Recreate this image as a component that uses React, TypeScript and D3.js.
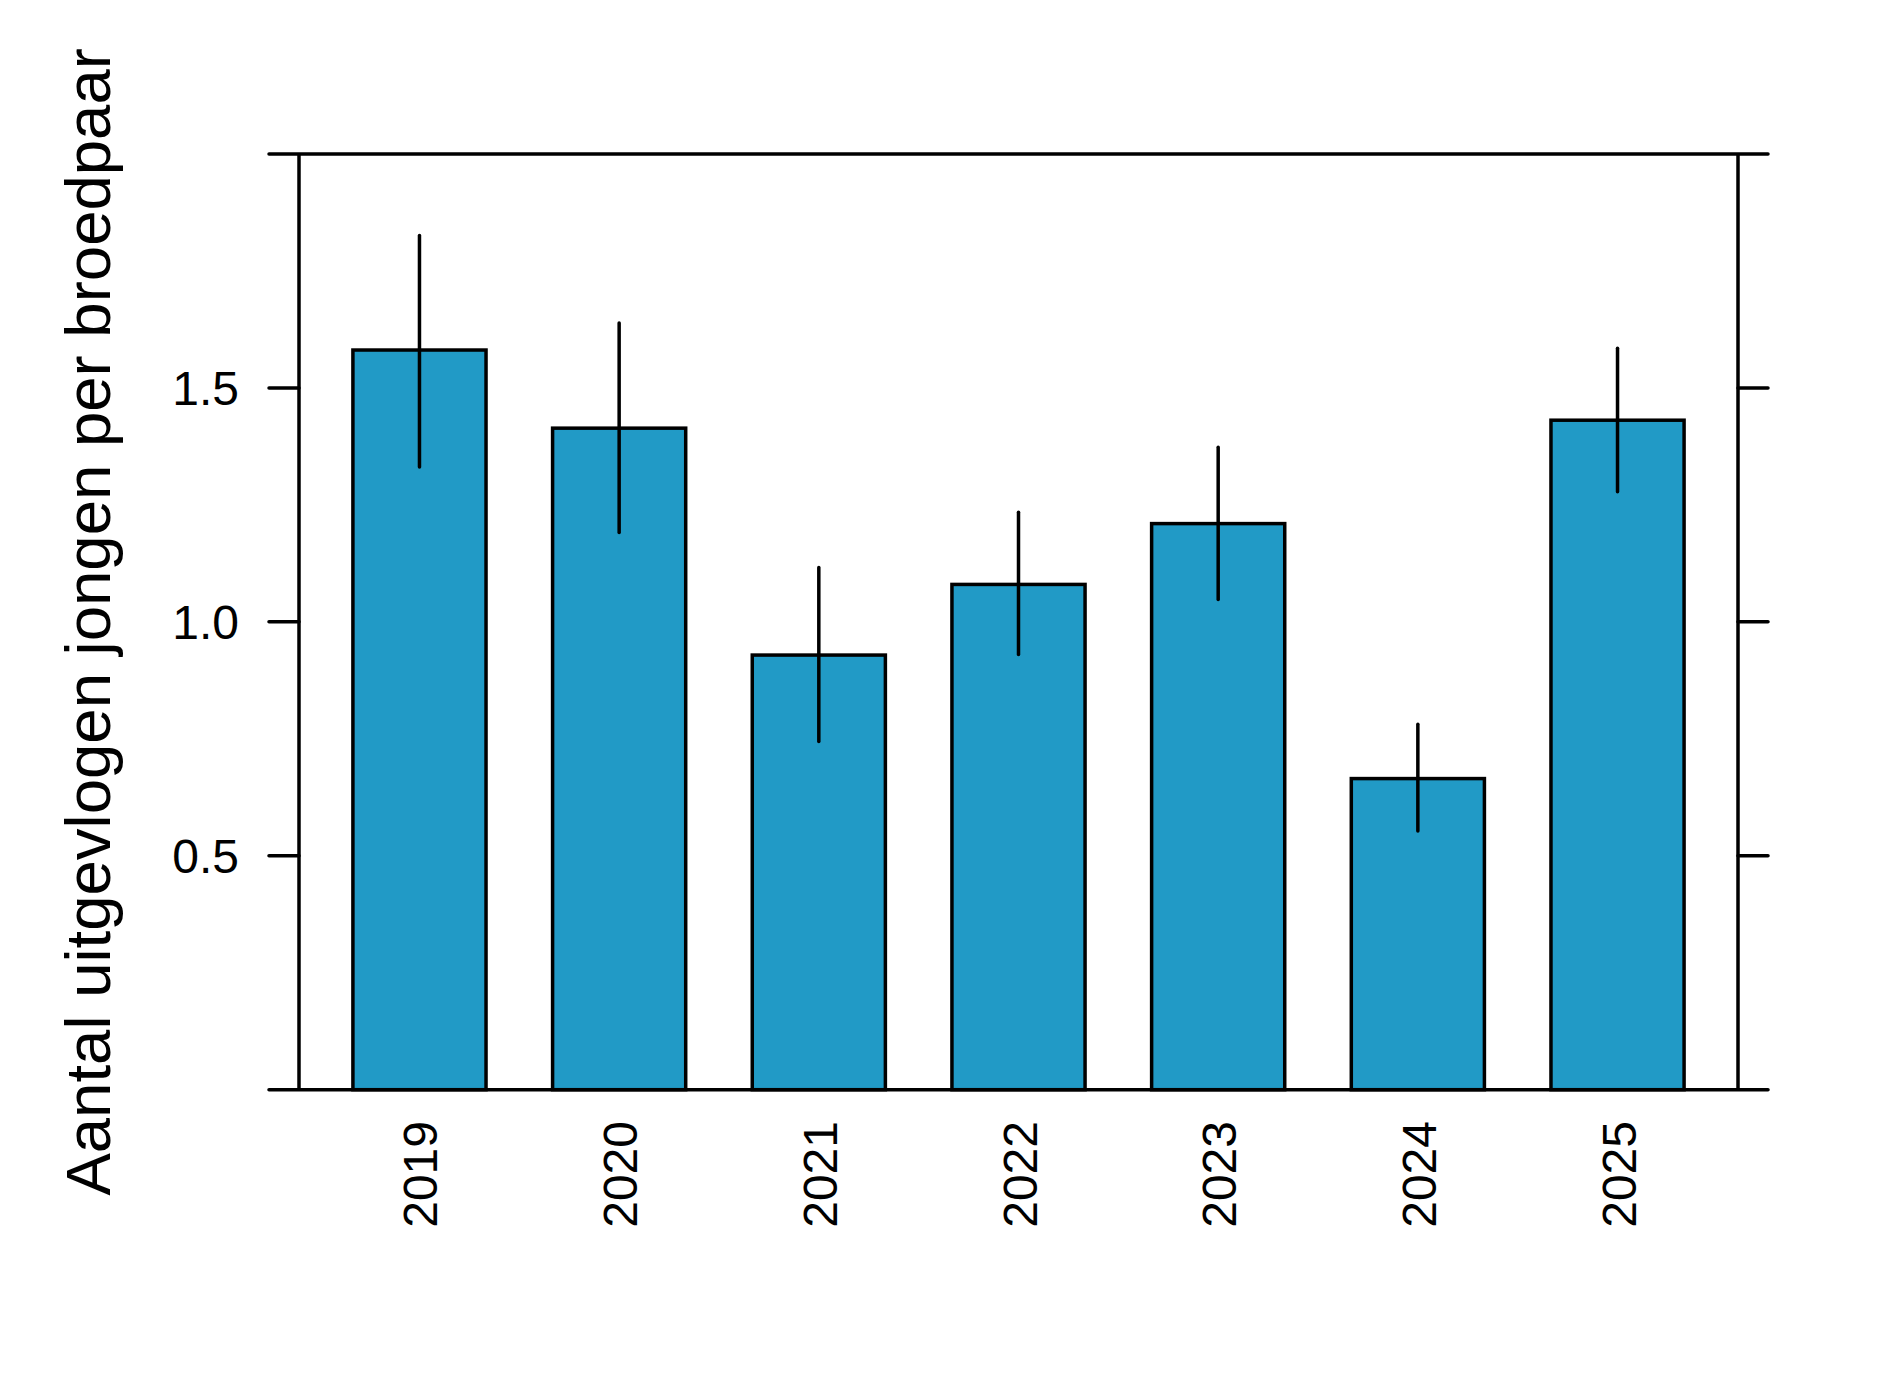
import React from "react";
import * as d3 from "d3";

const years = ["2019", "2020", "2021", "2022", "2023", "2024", "2025"];
const means = [1.581, 1.414, 0.929, 1.08, 1.21, 0.665, 1.431];
const lower = [1.331, 1.191, 0.744, 0.93, 1.048, 0.553, 1.278];
const upper = [1.826, 1.639, 1.116, 1.234, 1.373, 0.781, 1.585];
const yTicks = [0.5, 1.0, 1.5];
const yTitle = "Aantal uitgevlogen jongen per broedpaar";

export default function App() {
  const W = 1890, H = 1386;
  const left = 299, right = 1738, top = 154, bottom = 1089.7;
  const x = d3.scaleBand<string>().domain(years).range([left, right]).paddingInner(1 / 3).paddingOuter(0.27);
  const y = d3.scaleLinear().domain([0, 2]).range([bottom, top]);
  const tick = 30;
  const sw = 3.5;
  const font = "'Liberation Sans', Arial, sans-serif";
  const fill = "#219AC6";
  return (
    <svg width={W} height={H} style={{ position: "absolute", left: 0, top: 0, background: "#fff" }}>
      {years.map((yr, i) => (
        <rect key={yr} x={x(yr)!} y={y(means[i])} width={x.bandwidth()} height={y(0) - y(means[i])}
          fill={fill} stroke="#000" strokeWidth={sw} />
      ))}
      {years.map((yr, i) => (
        <line key={"e" + yr} x1={x(yr)! + x.bandwidth() / 2} x2={x(yr)! + x.bandwidth() / 2}
          y1={y(upper[i])} y2={y(lower[i])} stroke="#000" strokeWidth={sw} strokeLinecap="round" />
      ))}
      <line x1={left} x2={left} y1={y(2)} y2={y(0)} stroke="#000" strokeWidth={sw} />
      <line x1={right} x2={right} y1={y(2)} y2={y(0)} stroke="#000" strokeWidth={sw} />
      <line x1={left - tick} x2={right + tick} y1={y(2)} y2={y(2)} stroke="#000" strokeWidth={sw} strokeLinecap="round" />
      <line x1={left - tick} x2={right + tick} y1={y(0)} y2={y(0)} stroke="#000" strokeWidth={sw} strokeLinecap="round" />
      {yTicks.map((t) => (
        <g key={t}>
          <line x1={left - tick} x2={left} y1={y(t)} y2={y(t)} stroke="#000" strokeWidth={sw} strokeLinecap="round" />
          <line x1={right} x2={right + tick} y1={y(t)} y2={y(t)} stroke="#000" strokeWidth={sw} strokeLinecap="round" />
          <text x={239} y={y(t)} dy="0.36em" textAnchor="end" fontFamily={font} fontSize={48} fill="#000">
            {t.toFixed(1)}
          </text>
        </g>
      ))}
      {years.map((yr) => {
        const cx = x(yr)! + x.bandwidth() / 2;
        return (
          <text key={"l" + yr} transform={`translate(${cx + 18},1121) rotate(-90)`} textAnchor="end"
            fontFamily={font} fontSize={48} fill="#000">{yr}</text>
        );
      })}
      <text transform={`translate(110,${(top + bottom) / 2}) rotate(-90)`} textAnchor="middle"
        fontFamily={font} fontSize={63.5} fill="#000">{yTitle}</text>
    </svg>
  );
}
